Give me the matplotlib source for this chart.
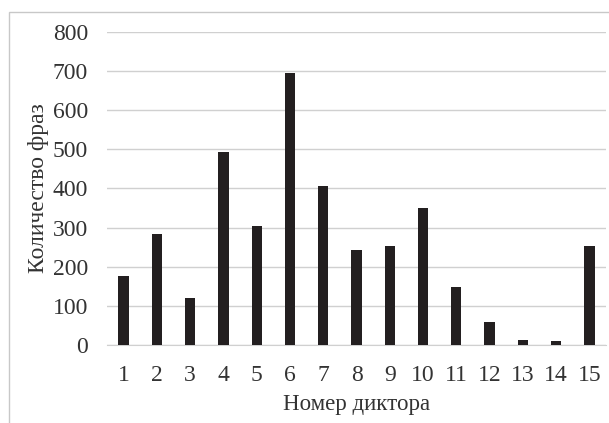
import matplotlib
matplotlib.use("Agg")
import matplotlib.pyplot as plt
from matplotlib.patches import Rectangle

speakers = [str(i) for i in range(1, 16)]
phrases = [176, 283, 121, 492, 305, 694, 406, 243, 252, 351, 148, 59, 13, 10, 252]
yticks = [0, 100, 200, 300, 400, 500, 600, 700, 800]

plt.rcParams['font.family'] = ['Liberation Serif', 'DejaVu Serif']

W, H = 609, 423
fig = plt.figure(figsize=(W / 100, H / 100), dpi=100)
ax = fig.add_axes([107 / W, (H - 345) / H, (606 - 107) / W, (345 - 31.7) / H])

x = list(range(1, 16))
ax.bar(x, phrases, width=0.31, color='#231f20', zorder=3)
ax.set_xlim(0.5, 15.5)
ax.set_ylim(0, 800)
ax.set_yticks(yticks)
ax.set_xticks(x)
ax.set_xticklabels(speakers)
ax.grid(axis='y', color='#d0d0d0', linewidth=1.0, zorder=0)
for s in ['top', 'right', 'left']:
    ax.spines[s].set_visible(False)
ax.spines['bottom'].set_color('#d0d0d0')
ax.tick_params(axis='both', length=0, labelsize=17, colors='#333333')
ax.tick_params(axis='x', pad=14.5)
ax.tick_params(axis='y', pad=13.5)
ax.set_xlabel('Номер диктора', fontsize=16.5, color='#333333', labelpad=5.5)
ax.set_ylabel('Количество фраз', fontsize=17, color='#333333', labelpad=2.5)

fig.patches.append(Rectangle((8.5 / W, -0.1), 1.2, 1.1 - 12 / H,
                             transform=fig.transFigure, fill=False,
                             edgecolor='#c8c8c8', linewidth=1.0))

fig.savefig('out.png', dpi=100)
